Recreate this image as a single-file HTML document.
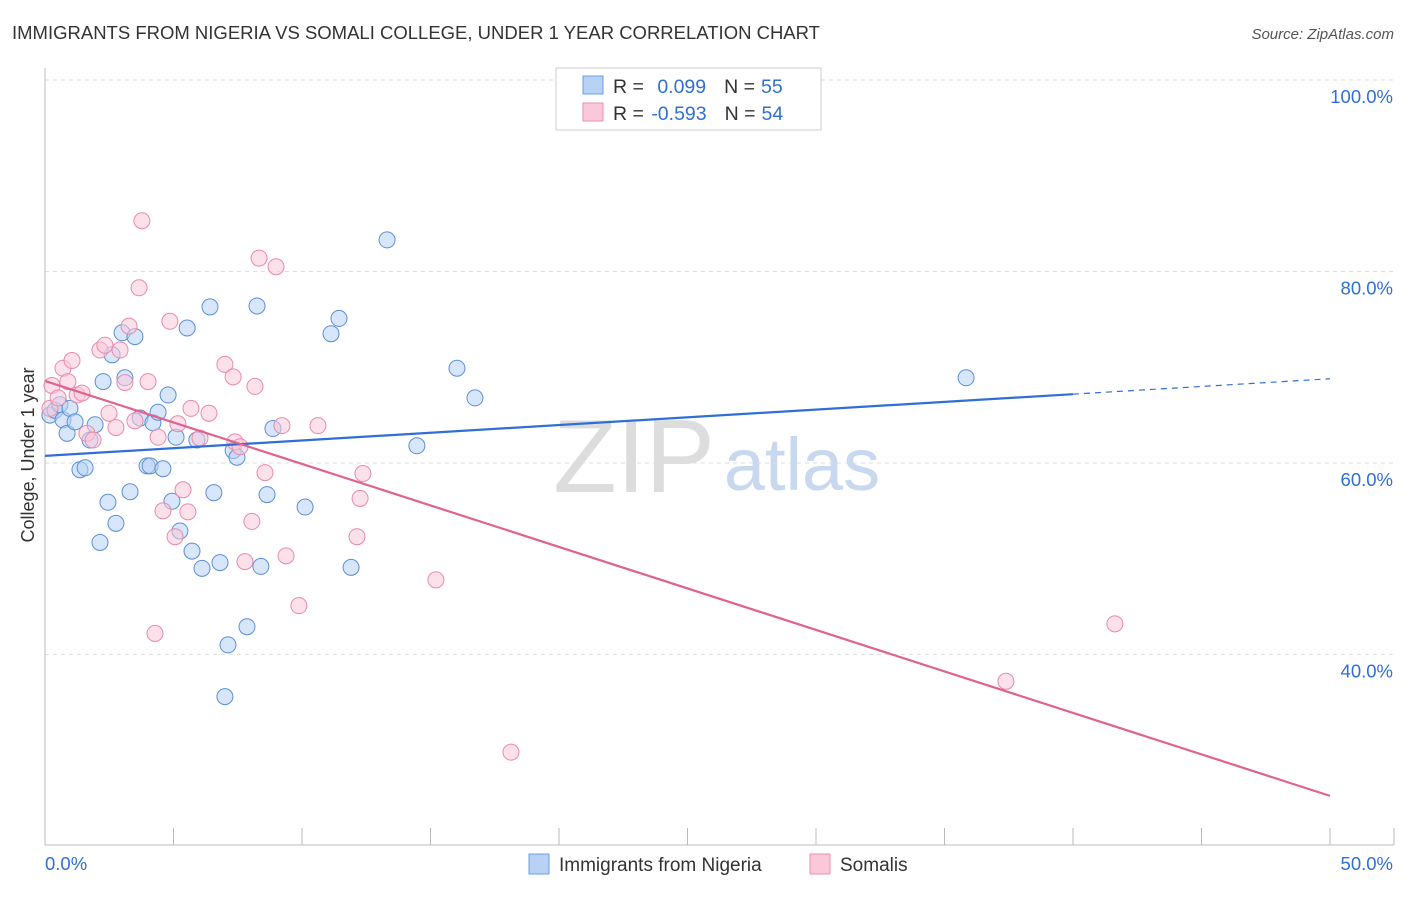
<!DOCTYPE html>
<html><head><meta charset="utf-8"><style>
body{margin:0;background:#fff;font-family:"Liberation Sans",sans-serif;}
svg text{font-family:"Liberation Sans",sans-serif;}
</style></head><body>
<svg id="c" width="1406" height="892" xmlns="http://www.w3.org/2000/svg">
<text x="12" y="39" font-size="18.5" fill="#333">IMMIGRANTS FROM NIGERIA VS SOMALI COLLEGE, UNDER 1 YEAR CORRELATION CHART</text>
<text x="1394" y="39" font-size="15" fill="#555" text-anchor="end" font-style="italic">Source: ZipAtlas.com</text>
<text x="34" y="455" font-size="18" fill="#333" text-anchor="middle" transform="rotate(-90 34 455)">College, Under 1 year</text>
<text x="634" y="492" font-size="104" fill="#ddd" font-family="Liberation Serif" text-anchor="middle">ZIP</text>
<text x="802" y="490" font-size="74" fill="#c8d8ee" text-anchor="middle">atlas</text>
<g id="grid"></g><g id="marks"></g>
<g>
<rect x="556" y="68" width="265" height="62" fill="#fff" stroke="#ccc"/>
<rect x="583" y="76" width="20" height="18" fill="#b7d2f5" stroke="#6a9fe0"/>
<rect x="583" y="103" width="20" height="18" fill="#fbc8d8" stroke="#ec8fb0"/>
<text x="613" y="93" font-size="19.5" fill="#333">R = <tspan fill="#2f6fd6" dx="8">0.099</tspan><tspan dx="18" fill="#333">N =</tspan><tspan dx="6" fill="#2f6fd6">55</tspan></text>
<text x="613" y="120" font-size="19.5" fill="#333">R = <tspan fill="#2f6fd6" dx="2">-0.593</tspan><tspan dx="18" fill="#333">N =</tspan><tspan dx="6" fill="#2f6fd6">54</tspan></text>
</g>
<g>
<rect x="529" y="854" width="20" height="20" fill="#b7d2f5" stroke="#6a9fe0"/>
<text x="559" y="871" font-size="19" fill="#333">Immigrants from Nigeria</text>
<rect x="810" y="854" width="20" height="20" fill="#fbc8d8" stroke="#ec8fb0"/>
<text x="840" y="871" font-size="19" fill="#333">Somalis</text>
</g>
</svg>
<script>
const yTicks=[40,60,80,100];
const yTickLabels=["40.0%","60.0%","80.0%","100.0%"];
const xTickLabels=["0.0%","50.0%"];
const nigeriaX=[0.19,0.39,0.58,0.70,0.86,0.97,1.17,1.36,1.56,1.75,1.95,2.14,2.26,2.45,2.61,2.76,3.00,3.11,3.31,3.50,3.70,3.97,4.09,4.20,4.40,4.59,4.79,4.94,5.10,5.25,5.53,5.72,5.91,6.11,6.42,6.57,6.81,7.12,7.00,7.32,7.47,7.86,8.25,8.40,8.64,8.87,10.12,11.13,11.44,11.91,13.31,14.47,16.03,16.73,35.84];
const nigeriaY=[65.0,65.5,66.1,64.5,63.1,65.7,64.3,59.3,59.5,62.4,64.0,51.7,68.5,55.9,71.3,53.7,73.6,68.9,57.0,73.2,64.7,59.7,59.7,64.2,65.3,59.4,67.1,56.0,62.7,52.9,74.1,50.8,62.4,49.0,76.3,56.9,49.6,41.0,35.6,61.3,60.6,42.9,76.4,49.2,56.7,63.6,55.4,73.5,75.1,49.1,83.3,61.8,69.9,66.8,68.9];
const somaliX=[0.19,0.27,0.51,0.70,0.89,1.05,1.25,1.44,1.63,1.87,2.14,2.33,2.49,2.76,2.92,3.11,3.27,3.50,3.66,3.77,4.01,4.28,4.40,4.59,4.86,5.06,5.17,5.37,5.56,5.68,6.03,6.38,7.00,7.32,7.39,7.59,7.78,8.05,8.17,8.33,8.56,8.99,9.22,9.38,9.88,10.62,12.14,12.26,12.37,15.21,18.13,37.39,41.63];
const somaliY=[65.7,68.1,66.8,69.9,68.5,70.7,67.1,67.3,63.1,62.4,71.8,72.3,65.2,63.7,71.8,68.4,74.3,64.4,78.3,85.3,68.5,42.2,62.7,55.0,74.8,52.3,64.1,57.2,54.9,65.7,62.6,65.2,70.3,69.0,62.2,61.7,49.7,53.9,68.0,81.4,59.0,80.5,63.9,50.3,45.1,63.9,52.3,56.3,58.9,47.8,29.8,37.2,43.2];
const sx=v=>45+v*1285/50, sy=v=>80+(100-v)*9.575;
const NS="http://www.w3.org/2000/svg";
function mk(t,a,p){const e=document.createElementNS(NS,t);for(const k in a)e.setAttribute(k,a[k]);p.appendChild(e);return e;}
const grid=document.getElementById('grid'),marks=document.getElementById('marks');
yTicks.forEach((t,i)=>{
 const g=mk('line',{x1:45,x2:1394,y1:sy(t),y2:sy(t),stroke:'#ddd','stroke-dasharray':'4,4'},grid);
 
 
 const l=mk('text',{x:1393,y:sy(t)+23,'font-size':18.5,fill:'#2f6fd6','text-anchor':'end'},grid);l.textContent=yTickLabels[i];
 
 
});
mk('line',{x1:45,x2:45,y1:68,y2:845,stroke:'#bbb'},grid);
mk('line',{x1:45,x2:1394,y1:845,y2:845,stroke:'#bbb'},grid);
for(let i=0;i<=10;i++){mk('line',{x1:sx(i*5),x2:sx(i*5),y1:828,y2:845,stroke:'#bbb'},grid);}
mk('line',{x1:1394,x2:1394,y1:828,y2:845,stroke:'#bbb'},grid);
xTickLabels.forEach((s,i)=>{const t=mk('text',{x:i?1393:45,y:870,'font-size':18.5,fill:'#2f6fd6','text-anchor':i?'end':'start'},grid);t.textContent=s;
 
 });
function pts(X,Y,fill,stroke,name){X.forEach((x,i)=>{const c=mk('circle',{cx:sx(x),cy:sy(Y[i]),r:8,fill:fill,'fill-opacity':0.55,stroke:stroke,'stroke-width':1},marks);
 
 });}
pts(nigeriaX,nigeriaY,'#b7d2f5','#5b8fd6','nigeria-point');
pts(somaliX,somaliY,'#fbc8d8','#e88aaa','somali-point');
function reg(X,Y){const n=X.length;let mx=0,my=0;X.forEach((x,i)=>{mx+=x;my+=Y[i];});mx/=n;my/=n;let a=0,b=0;X.forEach((x,i)=>{a+=(x-mx)*(Y[i]-my);b+=(x-mx)*(x-mx);});const s=a/b;return x=>my+s*(x-mx);}
const fb=reg(nigeriaX,nigeriaY),fp=reg(somaliX,somaliY);
let l1=mk('line',{x1:sx(0),y1:sy(fb(0)),x2:sx(40),y2:sy(fb(40)),stroke:'#2f6fd6','stroke-width':2.2},marks);


let l2=mk('line',{x1:sx(40),y1:sy(fb(40)),x2:sx(50),y2:sy(fb(50)),stroke:'#2f6fd6','stroke-width':1.2,'stroke-dasharray':'6,5'},marks);


let l3=mk('line',{x1:sx(0),y1:sy(fp(0)),x2:sx(50),y2:sy(fp(50)),stroke:'#e0628f','stroke-width':2.2},marks);


</script>
</body></html>
